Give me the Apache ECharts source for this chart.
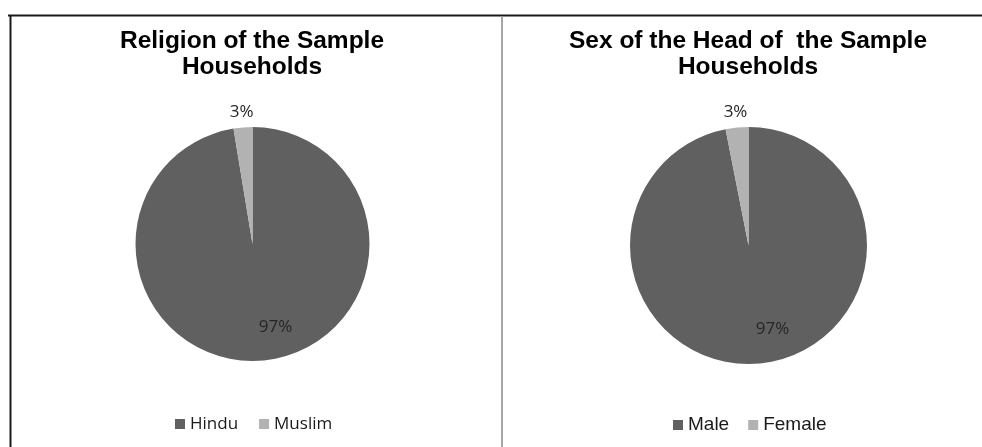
<!DOCTYPE html>
<html>
<head>
<meta charset="utf-8">
<script src="https://cdn.jsdelivr.net/npm/echarts@6/dist/echarts.min.js"></script>
<style>
html,body{margin:0;padding:0;background:#fff;}
#chart{width:982px;height:447px;}
</style>
</head>
<body>
<div id="chart"></div>
<script>
// ---- data ----
const religionCategories = ['Hindu', 'Muslim'];
const religionValues = [97.4, 2.6];
const sexCategories = ['Male', 'Female'];
const sexValues = [96.9, 3.1];
const titles = ['Religion of the Sample\nHouseholds', 'Sex of the Head of  the Sample\nHouseholds'];
const sliceColors = ['#606060', '#b2b2b2'];

function buildData(cats, vals) {
  return cats.map((c, i) => ({
    name: c,
    value: vals[i],
    itemStyle: { color: sliceColors[i] },
    label: i === 0
      ? { position: 'inside' }
      : { position: 'outside' }
  }));
}

const chart = echarts.init(document.getElementById('chart'));
const labelStyle = {
  show: true,
  formatter: p => Math.round(p.percent) + '%',
  fontFamily: '"Open Sans", sans-serif',
  fontSize: 17,
  color: '#262626'
};

function pieSeries(cats, vals, center, radius) {
  return {
    type: 'pie',
    center: center,
    radius: radius,
    startAngle: 90,
    clockwise: true,
    avoidLabelOverlap: false,
    animation: false,
    silent: true,
    itemStyle: { borderWidth: 0 },
    label: Object.assign({ distanceToLabelLine: 0 }, labelStyle),
    labelLine: { show: false, length: 15, length2: 0 },
    labelLayout: function (p) {
      if (p.dataIndex === 0) return { dx: 18, dy: 22 };
      return { align: 'center' };
    },
    data: buildData(cats, vals)
  };
}

const titleText = { fontFamily: '"Liberation Sans", Arial, sans-serif', fontWeight: 'bold', fontSize: 24.5, lineHeight: 26, color: '#000' };

chart.setOption({
  backgroundColor: '#ffffff',
  animation: false,
  title: [
    { text: titles[0], left: 252, top: 28, textAlign: 'center', padding: 0, textStyle: titleText },
    { text: titles[1], left: 748, top: 28, textAlign: 'center', padding: 0, textStyle: titleText }
  ],
  legend: [
    {
      data: religionCategories, left: 175, top: 415, padding: 0,
      icon: 'rect', itemWidth: 10, itemHeight: 10, itemGap: 21,
      textStyle: { fontFamily: '"Open Sans", sans-serif', fontSize: 17, lineHeight: 18, color: '#1a1a1a' }
    },
    {
      data: sexCategories, left: 673, top: 415, padding: 0,
      icon: 'rect', itemWidth: 10, itemHeight: 10, itemGap: 19,
      textStyle: { fontFamily: '"Liberation Sans", Arial, sans-serif', fontSize: 19, lineHeight: 20, color: '#1a1a1a' }
    }
  ],
  series: [
    pieSeries(religionCategories, religionValues, [252.5, 244], 117),
    pieSeries(sexCategories, sexValues, [748.5, 245.5], 118.5)
  ],
  graphic: [
    { type: 'line', shape: { x1: 8, y1: 15.5, x2: 982, y2: 15.5 }, style: { stroke: '#1a1a1a', lineWidth: 2 }, silent: true },
    { type: 'line', shape: { x1: 10.5, y1: 15, x2: 10.5, y2: 447 }, style: { stroke: '#1a1a1a', lineWidth: 2 }, silent: true },
    { type: 'line', shape: { x1: 502, y1: 16.5, x2: 502, y2: 447 }, style: { stroke: '#a6a6a6', lineWidth: 2 }, silent: true }
  ]
});
</script>
</body>
</html>
